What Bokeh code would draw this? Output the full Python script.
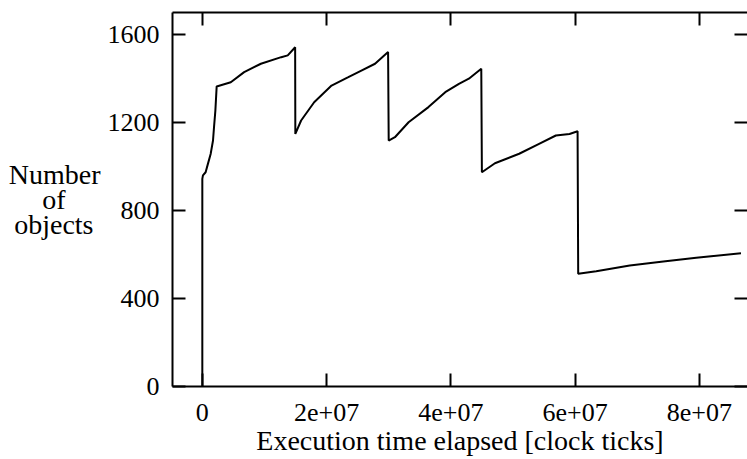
from bokeh.plotting import figure
from bokeh.models import Range1d, FixedTicker, LinearAxis
from bokeh.embed import file_html
from bokeh.resources import INLINE

# Execution time elapsed [clock ticks]
time_ticks = [0, 0, 1.0e5, 5.3e5, 9.0e5, 1.34e6, 1.72e6, 1.88e6, 2.1e6, 2.31e6,
              4.58e6, 6.73e6, 9.43e6, 1.27e7, 1.375e7, 1.494e7,
              1.497e7, 1.59e7, 1.80e7, 2.08e7, 2.35e7, 2.56e7, 2.78e7, 2.99e7,
              3.0e7, 3.10e7, 3.32e7, 3.64e7, 3.91e7, 4.13e7, 4.29e7, 4.49e7,
              4.50e7, 4.71e7, 5.10e7, 5.42e7, 5.69e7, 5.91e7, 6.04e7,
              6.05e7, 6.34e7, 6.88e7, 7.42e7, 7.95e7, 8.67e7]
# Number of objects
num_objects = [0, 944, 960, 974, 1012, 1057, 1118, 1178, 1254, 1364,
               1383, 1429, 1467, 1497, 1505, 1542,
               1148, 1209, 1292, 1368, 1406, 1436, 1467, 1520,
               1118, 1133, 1201, 1270, 1338, 1376, 1399, 1444,
               974, 1015, 1058, 1103, 1141, 1148, 1160,
               512, 524, 550, 568, 585, 606]

x_tick_values = [0, 2e7, 4e7, 6e7, 8e7]
x_tick_labels = ["0", "2e+07", "4e+07", "6e+07", "8e+07"]
y_tick_values = [0, 400, 800, 1200, 1600]
# lines of the y-axis title; trailing no-break spaces centre the lines
y_label = "Number\nof\u00a0\u00a0\u00a0\u00a0\u00a0\nobjects\u00a0"

FONT = "Liberation Serif"
TICK_FS = "26px"
LABEL_FS = "28px"
W, H = 747, 459

p = figure(width=W, height=H, output_backend="svg", toolbar_location=None,
           x_range=Range1d(-4.8e6, 8.775e7), y_range=Range1d(0, 1700),
           min_border_left=172, min_border_right=0, min_border_top=12,
           min_border_bottom=73)
p.grid.visible = False
p.outline_line_color = None
p.background_fill_color = "white"
p.border_fill_color = "white"

p.line(time_ticks, num_objects, line_color="black", line_width=2)

def style_axis(ax):
    ax.axis_line_color = "black"
    ax.axis_line_width = 2
    ax.major_tick_line_width = 2
    ax.major_tick_line_color = "black"
    ax.major_tick_in = 13
    ax.major_tick_out = 0
    ax.minor_tick_line_color = None
    ax.major_label_text_font = FONT
    ax.major_label_text_font_size = TICK_FS
    ax.major_label_text_color = "black"
    ax.axis_label_text_font = FONT
    ax.axis_label_text_font_size = LABEL_FS
    ax.axis_label_text_font_style = "normal"
    ax.axis_label_text_color = "black"

xa = p.xaxis[0]
style_axis(xa)
xa.ticker = FixedTicker(ticks=x_tick_values)
xa.major_label_overrides = {v: l for v, l in zip(x_tick_values, x_tick_labels)}
xa.major_label_standoff = 17
xa.axis_label = "Execution time elapsed [clock ticks]"
xa.axis_label_standoff = 1

ya = p.yaxis[0]
style_axis(ya)
ya.ticker = FixedTicker(ticks=y_tick_values)
ya.major_label_standoff = 13
ya.axis_label = y_label
ya.axis_label_orientation = "horizontal"
ya.axis_label_standoff = 4
ya.axis_label_text_line_height = 0.8

top = LinearAxis(ticker=FixedTicker(ticks=x_tick_values))
style_axis(top)
top.major_label_overrides = {v: "" for v in x_tick_values}
top.major_label_standoff = 0
top.major_label_text_font_size = "0px"
p.add_layout(top, "above")

right = LinearAxis(ticker=FixedTicker(ticks=y_tick_values))
style_axis(right)
right.axis_line_color = None
right.major_label_overrides = {v: "" for v in y_tick_values}
right.major_label_standoff = 0
right.major_label_text_font_size = "0px"
p.add_layout(right, "right")

open("out.html", "w").write(file_html(p, INLINE))
